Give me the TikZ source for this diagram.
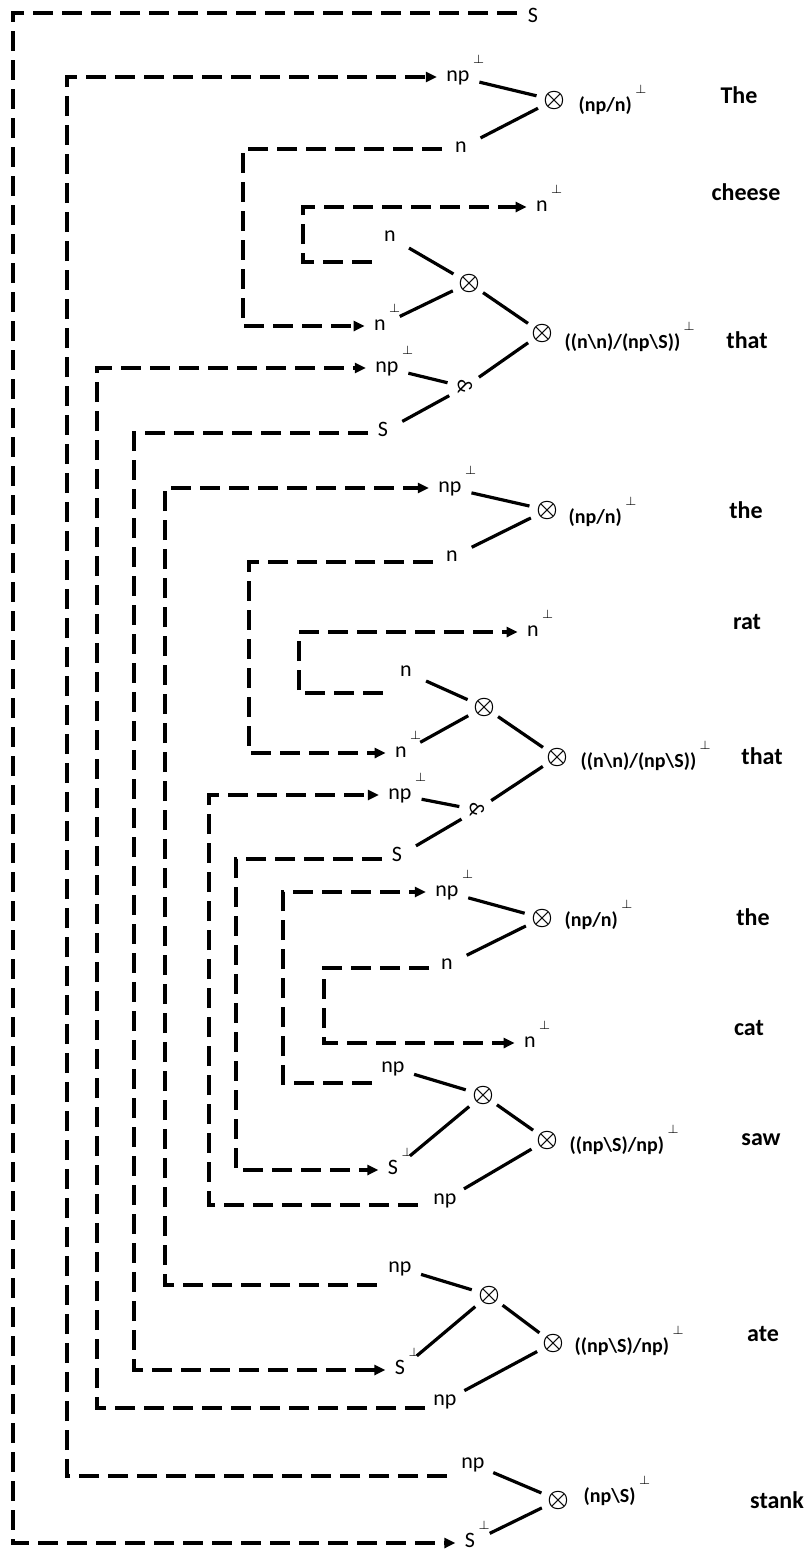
\documentclass[tikz,border=0pt]{standalone}
\usepackage{fontspec}
\setmainfont{Carlito}
\usetikzlibrary{arrows.meta}
\tikzset{
net/.style={x=0.5pt,y=-0.5pt,line width=1.6pt},
lit/.style={inner sep=1pt,text height=1ex,text depth=0pt,font=\fontsize{11}{13}\selectfont},
typ/.style={lit,anchor=west,font=\bfseries\fontsize{10}{12}\selectfont},
word/.style={font=\bfseries\fontsize{12}{14}\selectfont},
neg/.style={label={[inner sep=0pt,xshift=-1pt,yshift=2pt,font=\fontsize{6.5}{7}\selectfont]north east:$\perp$}},
tens/.style={inner sep=0pt,font=\fontsize{13}{15}\selectfont\boldmath},
parr/.style={inner sep=0pt,font=\fontsize{10.5}{12}\selectfont,rotate=-90},
wire/.style={draw,shorten <=11pt,shorten >=9pt},
wire2/.style={draw,shorten <=8.5pt,shorten >=8.5pt},
axlink/.style={draw,dash pattern=on 10pt off 4.5pt,-{Triangle[length=5.5pt,width=5pt]},shorten >=3pt},
viacol/.style={to path={-- (\tikztostart -| #1,0) |- (\tikztotarget)}},
}
\begin{document}
\begin{tikzpicture}[net]
\useasboundingbox (0,0) rectangle (810,1553);

\node[lit] (s0) at (533,18) {S};

\node[lit,neg] (a1) at (458,77) {np};
\node[tens] (t1) at (554,100) {$\otimes$};
\node[lit] (b1) at (461,148) {n};
\node[typ,neg] (l1) at (575,107) {(np/n)};
\node[word] (w1) at (739,95) {The};

\node[lit,neg] (a2) at (542,207) {n};
\node[word] (w2) at (746,192) {cheese};

\node[lit] (b3) at (390,237) {n};
\node[tens] (u3) at (469,283) {$\otimes$};
\node[lit,neg] (a3) at (380,326) {n};
\node[tens] (t3) at (542,333) {$\otimes$};
\node[lit,neg] (c3) at (387,368) {np};
\node[parr] (p3) at (465,387) {\&};
\node[lit] (d3) at (383,432) {S};
\node[typ,neg] (l3) at (561,344) {((n\textbackslash n)/(np\textbackslash S))};
\node[word] (w3) at (747,340) {that};

\node[lit,neg] (a4) at (450,488) {np};
\node[tens] (t4) at (547,510) {$\otimes$};
\node[lit] (b4) at (452,557) {n};
\node[typ,neg] (l4) at (565,519) {(np/n)};
\node[word] (w4) at (746,510) {the};

\node[lit,neg] (a5) at (533,632) {n};
\node[word] (w5) at (747,622) {rat};

\node[lit] (b6) at (406,672) {n};
\node[tens] (u6) at (484,707) {$\otimes$};
\node[lit,neg] (a6) at (401,753) {n};
\node[tens] (t6) at (557,757) {$\otimes$};
\node[lit,neg] (c6) at (400,795) {np};
\node[parr] (p6) at (477,810) {\&};
\node[lit] (d6) at (397,857) {S};
\node[typ,neg] (l6) at (577,763) {((n\textbackslash n)/(np\textbackslash S))};
\node[word] (w6) at (762,756) {that};

\node[lit,neg] (a7) at (447,892) {np};
\node[tens] (t7) at (542,918) {$\otimes$};
\node[lit] (b7) at (447,965) {n};
\node[typ,neg] (l7) at (561,922) {(np/n)};
\node[word] (w7) at (753,917) {the};

\node[lit,neg] (a8) at (530,1043) {n};
\node[word] (w8) at (749,1028) {cat};

\node[lit] (b9) at (393,1068) {np};
\node[tens] (u9) at (483,1095) {$\otimes$};
\node[lit,neg] (a9) at (393,1170) {S};
\node[tens] (t9) at (547,1140) {$\otimes$};
\node[lit] (c9) at (445,1200) {np};
\node[typ,neg] (l9) at (566,1147) {((np\textbackslash S)/np)};
\node[word] (w9) at (761,1140) {saw};

\node[lit] (b10) at (400,1268) {np};
\node[tens] (u10) at (489,1295) {$\otimes$};
\node[lit,neg] (a10) at (400,1370) {S};
\node[tens] (t10) at (553,1343) {$\otimes$};
\node[lit] (c10) at (445,1401) {np};
\node[typ,neg] (l10) at (571,1348) {((np\textbackslash S)/np)};
\node[word] (w10) at (763,1334) {ate};

\node[lit] (b11) at (473,1464) {np};
\node[tens] (t11) at (558,1500) {$\otimes$};
\node[lit,neg] (a11) at (470,1543) {S};
\node[typ,neg] (l11) at (580,1498) {(np\textbackslash S)};
\node[word] (w11) at (777,1500) {stank};

\coordinate (s0e) at ([shift={(-16,-5)}]s0.center);
\coordinate (b1e) at ([shift={(-19,1)}]b1.center);
\coordinate (b3e) at ([shift={(-18,25)}]b3.center);
\coordinate (d3e) at ([shift={(-15,1)}]d3.center);
\coordinate (b4e) at ([shift={(-19,5)}]b4.center);
\coordinate (b6e) at ([shift={(-23,21)}]b6.center);
\coordinate (d6e) at ([shift={(-15,2)}]d6.center);
\coordinate (b7e) at ([shift={(-18,3)}]b7.center);
\coordinate (b9e) at ([shift={(-21,15)}]b9.center);
\coordinate (c9e) at ([shift={(-27,5)}]c9.center);
\coordinate (b10e) at ([shift={(-23,17)}]b10.center);
\coordinate (c10e) at ([shift={(-20,7)}]c10.center);
\coordinate (b11e) at ([shift={(-26,12)}]b11.center);

\path[wire] (a1.center) edge (t1.center) (b1.center) edge (t1.center)
  (b3.center) edge (u3.center) (a3.center) edge (u3.center)
  (c3.center) edge (p3.center) (d3.center) edge (p3.center)
  (a4.center) edge (t4.center) (b4.center) edge (t4.center)
  (b6.center) edge (u6.center) (a6.center) edge (u6.center)
  (c6.center) edge (p6.center) (d6.center) edge (p6.center)
  (a7.center) edge (t7.center) (b7.center) edge (t7.center)
  (b9.center) edge (u9.center) (a9.center) edge (u9.center) (c9.center) edge (t9.center)
  (b10.center) edge (u10.center) (a10.center) edge (u10.center) (c10.center) edge (t10.center)
  (b11.center) edge (t11.center) (a11.center) edge (t11.center);
\path[wire2] (u3.center) edge (t3.center) (p3.center) edge (t3.center)
  (u6.center) edge (t6.center) (p6.center) edge (t6.center)
  (u9.center) edge (t9.center) (u10.center) edge (t10.center);

\draw[axlink] (s0e) to[viacol=13] (a11.west);
\draw[axlink] (b11e) to[viacol=67] (a1.west);
\draw[axlink] (c10e) to[viacol=97] (c3.west);
\draw[axlink] (d3e) to[viacol=134] (a10.west);
\draw[axlink] (b10e) to[viacol=165] (a4.west);
\draw[axlink] (c9e) to[viacol=209] (c6.west);
\draw[axlink] (d6e) to[viacol=236] (a9.west);
\draw[axlink] (b1e) to[viacol=243] (a3.west);
\draw[axlink] (b4e) to[viacol=249] (a6.west);
\draw[axlink] (b9e) to[viacol=283] (a7.west);
\draw[axlink] (b6e) to[viacol=299] (a5.west);
\draw[axlink] (b3e) to[viacol=303] (a2.west);
\draw[axlink] (b7e) to[viacol=324] (a8.west);
\end{tikzpicture}
\end{document}
